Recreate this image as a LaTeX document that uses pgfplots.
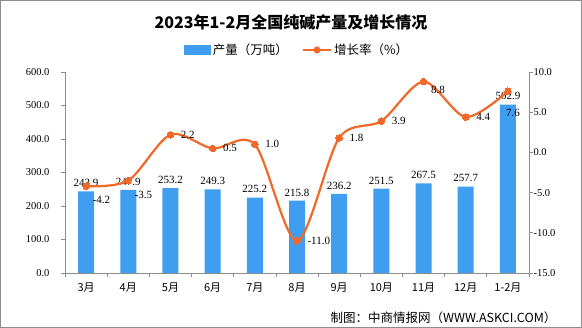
\documentclass[border=0pt]{standalone}
\usepackage{fontspec}
\setmainfont{Liberation Serif}
\newfontfamily\cjk{Noto Sans CJK SC}
\usepackage{pgfplots}
\usepackage{pgfplotstable}
\pgfplotsset{compat=1.18}
\definecolor{barblue}{RGB}{64,158,240}
\definecolor{lineorange}{RGB}{242,104,40}
\definecolor{axgray}{RGB}{140,140,140}

\pgfplotstableread{
x prod
0 243.9
1 247.9
2 253.2
3 249.3
4 225.2
5 215.8
6 236.2
7 251.5
8 267.5
9 257.7
10 502.9
}\prodtable

\pgfplotstableread{
x rate
0 -4.2
1 -3.5
2 2.2
3 0.5
4 1.0
5 -11.0
6 1.8
7 3.9
8 8.8
9 4.4
10 7.6
}\ratetable

\pgfplotstableread{
x rate
2 2.2
3 0.5
4 1.0
5 -11.0
6 1.8
7 3.9
9 4.4
}\ratewest

\pgfplotstableread{
x rate
0 -4.2
1 -3.5
}\ratesw

\pgfplotstableread{
x rate
8 8.8
}\ratepeak

\pgfplotstableread{
x rate
10 7.6
}\ratelast

\begin{document}
\begin{tikzpicture}
\useasboundingbox (0pt,0pt) rectangle (582pt,328pt);
\draw[axgray, line width=1pt] (0.5pt,0.5pt) rectangle (581.5pt,327.5pt);
\node[font=\cjk\bfseries\fontsize{16}{16}\selectfont] at (291pt,306pt) {2023年1-2月全国纯碱产量及增长情况};
\node[font=\cjk\fontsize{12.5}{12.5}\selectfont, anchor=east] at (560pt,10pt) {制图：中商情报网（WWW.ASKCI.COM）};

\begin{axis}[
  at={(65pt,55pt)}, anchor=south west,
  width=464pt, height=201pt, scale only axis,
  xmin=-0.5, xmax=10.5, ymin=0, ymax=600,
  axis y line*=left, axis x line*=bottom,
  axis line style={axgray, line width=0.8pt},
  tick style={axgray, line width=0.8pt},
  tick align=outside,
  major tick length=4pt, minor tick length=4pt,
  xtick={0,...,10},
  xticklabels={3月,4月,5月,6月,7月,8月,9月,10月,11月,12月,1-2月},
  major x tick style={draw=none},
  minor xtick={-0.5,0.5,...,10.5},
  xticklabel style={font=\cjk\fontsize{11}{11}\selectfont, yshift=-2pt},
  ytick={0,100,...,600},
  yticklabel style={font=\fontsize{10.5}{10.5}\selectfont, xshift=-8pt},
  /pgf/number format/.cd, fixed, fixed zerofill, precision=1, assume math mode=true,
  /pgfplots/.cd,
  legend style={at={(0.5,1)}, anchor=center, yshift=22pt, draw=none, fill=none,
    font=\cjk\fontsize{12.5}{12.5}\selectfont, /tikz/every even column/.append style={column sep=12pt}},
  legend columns=2,
]
\addplot[ybar, bar width=16pt, fill=barblue, draw=none,
  nodes near coords,
  every node near coord/.append style={font=\fontsize{11}{11}\selectfont, black, yshift=1pt},
  legend image code/.code={\fill[barblue] (0pt,-5pt) rectangle (27pt,5pt);}
] table[x=x, y=prod] {\prodtable};
\addlegendentry{产量（万吨）}
\addlegendimage{legend image code/.code={\draw[lineorange, line width=2.2pt] (0pt,0pt) -- (28pt,0pt); \fill[lineorange] (14pt,0pt) circle (3.3pt);}}
\addlegendentry{增长率（\%）}
\end{axis}

\begin{axis}[
  at={(65pt,55pt)}, anchor=south west,
  width=464pt, height=201pt, scale only axis,
  xmin=-0.5, xmax=10.5, ymin=-15, ymax=10,
  axis y line*=right, axis x line=none,
  axis line style={axgray, line width=0.8pt},
  tick style={axgray, line width=0.8pt},
  tick align=outside, major tick length=4pt,
  ytick={-15,-10,...,10},
  yticklabel style={font=\fontsize{10.5}{10.5}\selectfont, xshift=-3pt},
  /pgf/number format/.cd, fixed, fixed zerofill, precision=1, assume math mode=true,
  /pgfplots/.cd,
  every node near coord/.append style={font=\fontsize{11}{11}\selectfont, black},
]
\addplot[lineorange, line width=2.2pt, smooth, tension=0.5, mark=*, mark size=3.3pt,
  mark options={fill=lineorange, draw=lineorange, line width=0pt}] table[x=x, y=rate] {\ratetable};
\addplot[draw=none, mark=none, nodes near coords,
  every node near coord/.append style={anchor=west, xshift=7pt}]
  table[x=x, y=rate] {\ratewest};
\addplot[draw=none, mark=none, nodes near coords,
  every node near coord/.append style={anchor=north west, xshift=3pt, yshift=-7pt}]
  table[x=x, y=rate] {\ratesw};
\addplot[draw=none, mark=none, nodes near coords,
  every node near coord/.append style={anchor=north west, xshift=4pt, yshift=-1pt}]
  table[x=x, y=rate] {\ratepeak};
\addplot[draw=none, mark=none, nodes near coords,
  every node near coord/.append style={anchor=north, xshift=5pt, yshift=-14pt}]
  table[x=x, y=rate] {\ratelast};
\end{axis}
\end{tikzpicture}
\end{document}
